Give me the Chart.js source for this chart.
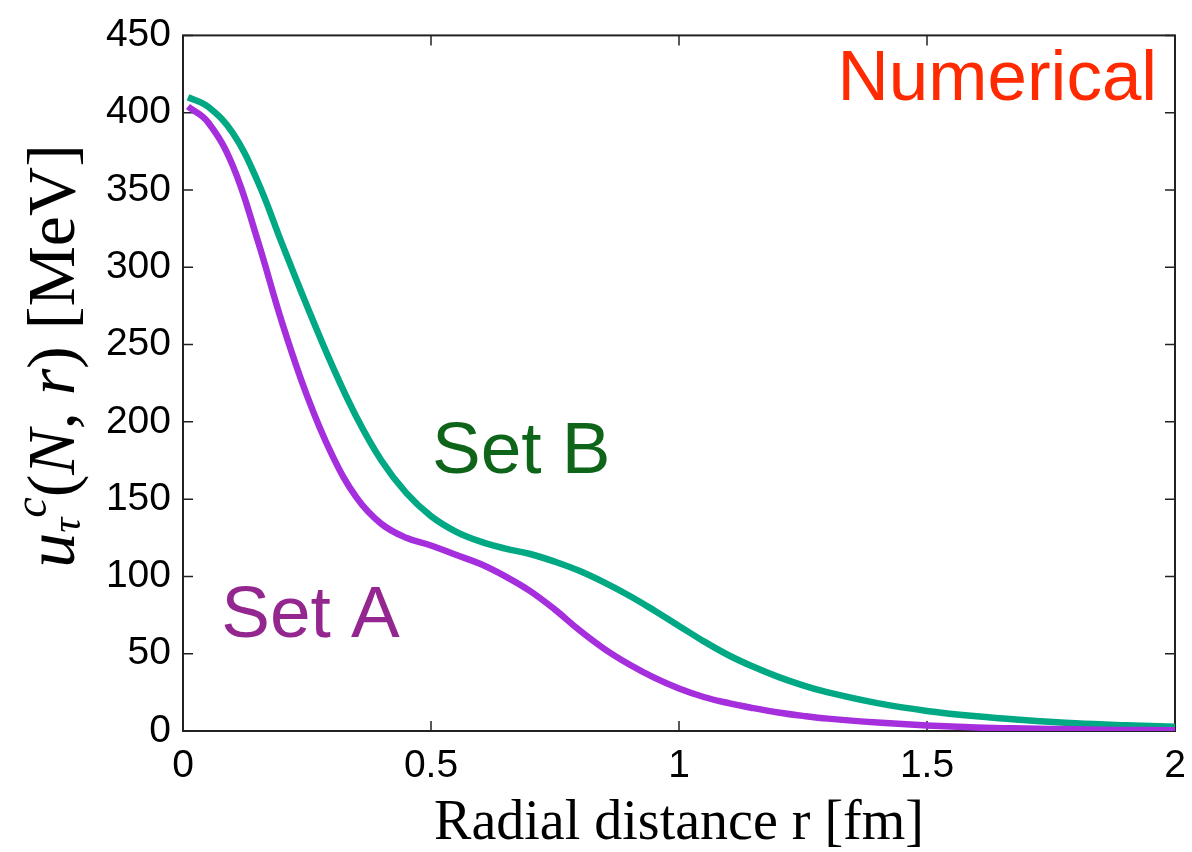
<!DOCTYPE html>
<html>
<head>
<meta charset="utf-8">
<script src="https://cdn.jsdelivr.net/npm/chart.js@4.4.0/dist/chart.umd.min.js"></script>
<style>
html, body { margin: 0; padding: 0; background: #fff; }
</style>
</head>
<body>
<canvas id="potentialChart" width="1192" height="852"></canvas>
<script>
// Values (r in fm, u in MeV)
const radius = [0.01, 0.05, 0.1, 0.15, 0.2, 0.25, 0.3, 0.35, 0.4, 0.45, 0.5, 0.55, 0.6, 0.65, 0.7, 0.75, 0.8, 0.85, 0.9, 0.95, 1.0, 1.05, 1.1, 1.15, 1.2, 1.25, 1.3, 1.4, 1.5, 1.6, 1.7, 1.8, 1.9, 2.0];
const setA = [404, 394, 366, 318, 264, 217, 179, 151, 134, 125, 120, 114, 108, 100, 90.5, 78.5, 65, 53, 43, 34.5, 27.5, 22, 18, 14.8, 12, 9.8, 8, 5.5, 3.6, 2.3, 1.6, 1.1, 0.7, 0.5];
const setB = [410, 404, 387, 356, 315, 275, 237, 203, 175, 154, 139, 129, 122.5, 118, 114.5, 109.5, 103.5, 96, 87.5, 78, 68, 58, 49, 41.5, 35, 29.5, 25, 18, 13, 9.5, 7, 5, 3.7, 2.7];
const xTicks = [0, 0.5, 1, 1.5, 2];
const yTicks = [0, 50, 100, 150, 200, 250, 300, 350, 400, 450];

const toPoints = (ys) => radius.map((r, i) => ({ x: r, y: ys[i] }));

// frame with inward ticks on all four sides (matplotlib look)
const frameTicks = {
    id: 'frameTicks',
    beforeDatasetsDraw(chart) {
        const { ctx, chartArea: a, scales: { x, y } } = chart;
        ctx.save();
        ctx.strokeStyle = '#222';
        ctx.lineWidth = 2;
        ctx.strokeRect(a.left, a.top, a.right - a.left, a.bottom - a.top);
        ctx.lineWidth = 1.5;
        ctx.beginPath();
        xTicks.forEach(v => {
            const px = x.getPixelForValue(v);
            ctx.moveTo(px, a.bottom); ctx.lineTo(px, a.bottom - 10);
            ctx.moveTo(px, a.top); ctx.lineTo(px, a.top + 10);
        });
        yTicks.forEach(v => {
            const py = y.getPixelForValue(v);
            ctx.moveTo(a.left, py); ctx.lineTo(a.left + 10, py);
            ctx.moveTo(a.right, py); ctx.lineTo(a.right - 10, py);
        });
        ctx.stroke();
        ctx.restore();
    },
    afterDatasetsDraw(chart) {
        const { ctx, scales: { x, y } } = chart;
        ctx.save();
        ctx.font = '71px "Liberation Sans", Arial, sans-serif';
        ctx.textBaseline = 'alphabetic';
        ctx.fillStyle = '#ff2a00';
        ctx.textAlign = 'right';
        ctx.fillText('Numerical', x.getPixelForValue(1.964), y.getPixelForValue(408));
        ctx.textAlign = 'left';
        ctx.font = '73px "Liberation Sans", Arial, sans-serif';
        ctx.fillStyle = '#0e6418';
        ctx.fillText('Set B', x.getPixelForValue(0.502), y.getPixelForValue(167));
        ctx.fillStyle = '#942690';
        ctx.fillText('Set A', x.getPixelForValue(0.077), y.getPixelForValue(60.5));
        ctx.restore();
    },
    afterDraw(chart) {
        // y axis title with sub/superscripts
        const ctx = chart.ctx;
        const serif = '"Liberation Serif", "Times New Roman", serif';
        const pieces = [
            { t: 'u', f: 'italic 70px ' + serif, dy: 0 },
            { t: 'τ', f: 'italic 42px ' + serif, dy: 6 },
            { t: 'c', f: 'italic 46px ' + serif, dy: -28 },
            { t: '(', f: '68px ' + serif, dy: 0 },
            { t: 'N', f: 'italic 68px ' + serif, dy: 0 },
            { t: ', ', f: '68px ' + serif, dy: 0 },
            { t: 'r', f: 'italic 68px ' + serif, dy: 0 },
            { t: ') [MeV]', f: '68px ' + serif, dy: 0 }
        ];
        ctx.save();
        let total = 0;
        pieces.forEach(p => { ctx.font = p.f; p.w = ctx.measureText(p.t).width; total += p.w; });
        ctx.translate(74, 356);
        ctx.rotate(-Math.PI / 2);
        ctx.fillStyle = '#000';
        ctx.textBaseline = 'alphabetic';
        ctx.textAlign = 'left';
        let cx = -total / 2;
        pieces.forEach(p => {
            ctx.font = p.f;
            ctx.fillText(p.t, cx, p.dy);
            cx += p.w;
        });
        ctx.restore();
    }
};

const ctx = document.getElementById('potentialChart').getContext('2d');
new Chart(ctx, {
    type: 'line',
    data: {
        datasets: [
            {
                label: 'Set A',
                data: toPoints(setA),
                borderColor: '#a52fdd',
                borderWidth: 6.5,
                pointRadius: 0,
                tension: 0.4,
                fill: false,
            },
            {
                label: 'Set B',
                data: toPoints(setB),
                borderColor: '#00a884',
                borderWidth: 6.5,
                pointRadius: 0,
                tension: 0.4,
                fill: false,
            },
        ],
    },
    options: {
        responsive: false,
        animation: false,
        devicePixelRatio: 1,
        layout: { padding: { top: 32, right: 17, left: 0, bottom: 0 } },
        plugins: {
            legend: { display: false },
            tooltip: { enabled: false },
        },
        scales: {
            x: {
                type: 'linear',
                min: 0,
                max: 2,
                afterBuildTicks: (s) => { s.ticks = xTicks.map(v => ({ value: v })); },
                afterFit: (s) => { s.height = 121; s.paddingLeft = 0; s.paddingRight = 0; },
                grid: { display: false, drawTicks: false },
                border: { display: false },
                ticks: {
                    color: '#000',
                    padding: 12,
                    maxRotation: 0,
                    autoSkip: false,
                    font: { family: '"Liberation Sans", Arial, sans-serif', size: 39 },
                    callback: (v) => String(v),
                },
                title: {
                    display: true,
                    text: 'Radial distance r [fm]',
                    color: '#000',
                    font: { family: '"Liberation Serif", "Times New Roman", serif', size: 56, lineHeight: 1.0 },
                    padding: { top: 0, bottom: 0 },
                },
            },
            y: {
                type: 'linear',
                min: 0,
                max: 450,
                afterBuildTicks: (s) => { s.ticks = yTicks.map(v => ({ value: v })); },
                afterFit: (s) => { s.width = 183; },
                grid: { display: false, drawTicks: false },
                border: { display: false },
                ticks: {
                    color: '#000',
                    padding: 12,
                    autoSkip: false,
                    font: { family: '"Liberation Sans", Arial, sans-serif', size: 39 },
                    callback: (v) => String(v),
                },
            },
        },
    },
    plugins: [frameTicks],
});
</script>
</body>
</html>
